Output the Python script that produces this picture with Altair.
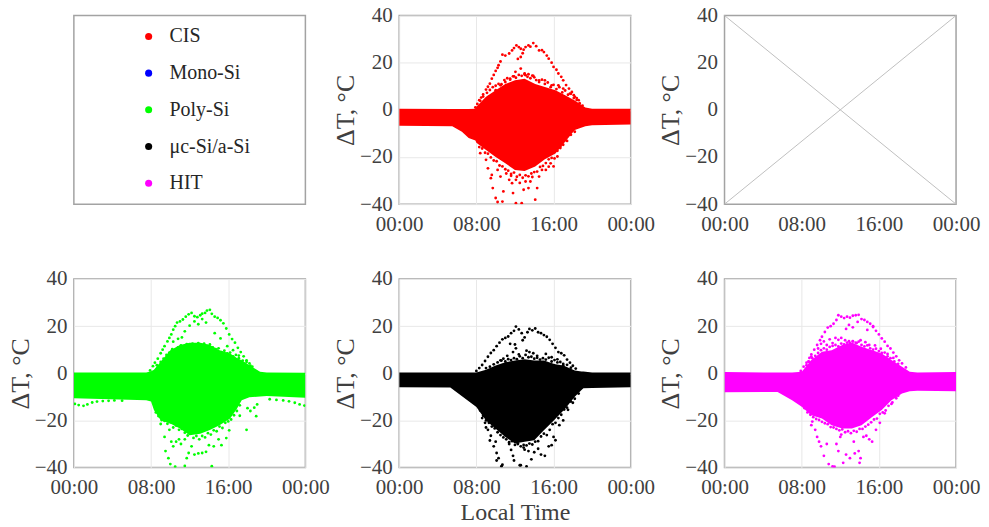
import json
import altair as alt
import numpy as np
import pandas as pd

FONT = "Liberation Serif"
INK = "#404040"
BORDER = "#a3a3a3"
GRID = "#e8e8e8"

X_TICKS = [0, 8, 16, 24]
X_LABELS = ["00:00", "08:00", "16:00", "00:00"]
Y_TICKS = [-40, -20, 0, 20, 40]
Y_TITLE = "ΔT, °C"
X_TITLE = "Local Time"

LEGEND_NAMES = ["CIS", "Mono-Si", "Poly-Si", "μc-Si/a-Si", "HIT"]
LEGEND_COLORS = ["#ff0000", "#0000ff", "#00ff00", "#000000", "#ff00ff"]

# ---- CIS
CIS_ENV_H = [0, 5.5, 6.5, 7.2, 7.9, 8, 9, 10, 11, 12, 13, 14.1, 15.1, 16.2, 17.2, 18.2, 19.3, 20, 24]
CIS_ENV_UP = [0.5, 0.3, 0.3, 0.3, 0.5, 1.3, 5.5, 8.3, 11, 12.5, 13.2, 11, 9.7, 8.3, 6.2, 4, 1, 0.5, 0.5]
CIS_ENV_LO = [-6.8, -7, -9.3, -12, -13, -14, -17, -20, -22.7, -25.5, -26, -24, -21, -18.5, -13.5, -8.6, -7, -6.5, -6.2]
CIS_PT_H = [7.9, 8.1, 8.3, 8.5, 8.7, 9.0, 9.2, 9.4, 9.6, 9.8, 10.0, 10.2, 10.3, 10.5, 10.7, 11.0, 11.4, 11.7, 11.9, 12.15, 12.4, 12.6, 12.9, 13.1, 13.4, 13.6, 13.9, 14.2, 14.5, 14.8, 15.0, 15.3, 15.5, 15.8, 16.0, 16.3, 16.5, 16.8, 17.0, 17.3, 17.6, 17.9, 18.1, 18.4, 18.6,
            12.05, 12.6, 13.1, 13.4, 13.8, 11.5, 11.0, 10.5, 10.0, 9.3, 14.5, 15.1, 15.8, 16.5, 17.0, 17.7, 18.2, 12.6, 12.3, 11.9, 13.0, 14.0, 12.8,
            9.0, 9.2, 9.6, 9.5, 9.7, 10.0, 10.2, 10.7, 10.8, 10.5, 10.2, 11.4, 11.7, 11.8, 12.1, 12.1, 12.7, 12.9, 13.1, 13.6, 13.4, 14.3, 14.1, 14.5, 14.8, 15.5, 15.7, 16.4, 16.7, 17.2, 18.2, 8.4, 11.1, 11.6, 12.5, 13.8, 15.2, 16.0,
            8.4, 8.7, 9.1, 9.4, 9.7, 10, 10.3, 10.6, 10.9, 11.2, 11.5, 11.8, 12.1, 12.4, 12.7, 13, 13.3, 13.6, 13.9, 14.2, 14.5, 14.8, 15.1, 15.4, 15.7, 16, 16.3, 16.6, 16.9, 17.2, 17.5, 17.8, 18.1, 18.4, 18.7, 19,
            8.3, 8.6, 8.9, 9.2, 9.5, 9.8, 10.1, 10.4, 10.7, 11, 11.3, 11.6, 11.9, 12.2, 12.5, 12.8, 13.1, 13.4, 13.7, 14, 14.3, 14.6, 14.9, 15.2, 15.5, 15.8, 16.1, 16.4, 16.7, 17, 17.4, 17.8]
CIS_PT_V = [1.0, 2.5, 4.1, 5.2, 6.5, 8.6, 9.8, 11.1, 13.2, 14.8, 16.5, 17.8, 18.9, 20.5, 23.4, 23.0, 23.9, 25.2, 26.2, 27.3, 26.6, 25.9, 25.5, 26.6, 27.3, 26.8, 28.3, 27.0, 25.2, 25.3, 24.5, 23.0, 21.7, 20.0, 18.2, 17.0, 15.4, 14.0, 12.5, 10.5, 9, 7.6, 6.2, 5, 4.1,
            16.1, 17.5, 14.7, 15.1, 14.5, 13.2, 11.8, 10.4, 8.3, 5.5, 12.5, 12.5, 10.4, 10.4, 9, 6.9, 5.5, 22.4, 21.6, 14.2, 15.4, 13.8, 24.0,
            -21.2, -24.8, -27.6, -29, -33.2, -37.4, -39.1, -38.9, -34.6, -28.3, -25.5, -29.7, -31.1, -35.3, -39.6, -29.7, -39.6, -33.9, -30.4, -30.4, -33.2, -33.2, -38.1, -28.3, -25.5, -24.1, -22.7, -19.8, -15.6, -12.8, -9.3, -18.4, -27, -28, -31, -28.5, -25.5, -24,
            3.8, 5.6, 7.2, 8.4, 9.6, 10.2, 11.0, 10.9, 12.6, 13.4, 12.8, 14.2, 13.6, 14.8, 14.4, 15.0, 14.0, 13.4, 14.4, 12.6, 11.8, 12.8, 11.0, 11.6, 9.6, 10.6, 8.8, 9.6, 7.4, 8.2, 6.4, 6.8, 5, 4.2, 2.8, 1.8,
            -15.8, -16.4, -18.2, -18.6, -20.2, -21.5, -21.8, -23.6, -24.0, -25.2, -25.8, -27.2, -26.6, -28.4, -27.6, -28.8, -27.8, -28.2, -27.0, -26.4, -26.2, -24.2, -23.8, -22.6, -21.0, -20.4, -20.6, -17.4, -16.2, -14.8, -13.2, -10.6]

# ---- Poly-Si
POLY_ENV_H = [0, 7.5, 8, 8.3, 9, 10, 11, 12, 13.1, 14.1, 15.1, 16.2, 16.9, 17.4, 18.2, 19.3, 20, 24]
POLY_ENV_UP = [0.3, 0.3, 0.9, 1.5, 4.9, 9.8, 12, 13, 13, 12, 9.8, 8.4, 6.5, 5.5, 3.4, 0.6, 0.3, 0.2]
POLY_ENV_LO = [-10.6, -11.4, -12, -15.6, -19.9, -21.3, -23.4, -26.3, -25.6, -24.1, -22, -19.2, -15, -11.4, -10.2, -9.8, -9.6, -10.4]
POLY_PT_H = [7.9, 8.2, 8.4, 8.7, 9.0, 9.2, 9.4, 9.7, 9.9, 10.1, 10.3, 10.5, 10.7, 11.0, 11.3, 11.6, 11.9, 12.2, 12.5, 12.8, 13.1, 13.3, 13.6, 13.8, 14.1, 14.3, 14.6, 14.9, 15.2, 15.5, 15.8, 16.1, 16.4, 16.7, 17.0, 17.3, 17.6, 17.9, 18.2, 18.5,
             12.5, 12.9, 13.3, 13.7, 12.0, 11.5, 11.2, 14.6, 10.8, 10.3, 15.2, 15.9, 16.5, 17.1,
             0.1, 0.5, 1.0, 1.4, 1.9, 2.4, 3.0, 3.6, 4.2, 5.0, 23.9, 23.4, 22.9, 22.3, 21.7, 21.0, 20.3, 19.0, 18.7, 18.3, 18.0, 18.9,
             9.0, 9.4, 9.5, 9.8, 10.0, 10.1, 10.3, 10.5, 10.9, 11.1, 11.5, 11.5, 11.7, 11.9, 12.2, 12.5, 12.9, 13.3, 13.7, 14.3, 14.0, 14.5, 15.0, 15.3, 15.8, 16.1, 17.2, 17.9, 10.6, 8.8, 9.9,
             8.6, 9.0, 9.3, 9.6, 9.9, 10.2, 10.5, 10.8, 11.1, 11.4, 11.7, 12, 12.3, 12.6, 12.9, 13.2, 13.5, 13.8, 14.1, 14.4, 14.7, 15, 15.3, 15.6, 15.9, 16.2, 16.5, 16.8, 17.1, 17.5, 17.9, 18.3,
             8.5, 8.8, 9.1, 9.4, 9.7, 10, 10.3, 10.6, 10.9, 11.2, 11.5, 11.8, 12.1, 12.4, 12.7, 13, 13.3, 13.6, 13.9, 14.2, 14.5, 14.8, 15.1, 15.4, 15.7, 16, 16.3, 16.6, 16.9, 17.2]
POLY_PT_V = [1.2, 3.0, 4.5, 6.2, 8.5, 10, 11.5, 13.5, 15, 16.5, 18.5, 20, 21.5, 22.0, 22.8, 24, 25, 25.6, 24.2, 23.8, 24.6, 25.3, 25.6, 26.6, 26.9, 25.2, 24.0, 23.5, 22.5, 21.2, 19.0, 16.5, 14.5, 13.0, 10.8, 9, 7.2, 5.5, 4.2, 2.8,
             22.0, 20.8, 23.0, 21.5, 20.2, 17.8, 15.2, 17.0, 14.6, 13.4, 14.8, 11.5, 9.8, 7.5,
             -13.0, -13.5, -13.8, -13.2, -12.4, -12.0, -11.8, -11.7, -11.5, -11.6, -13.7, -13.2, -12.5, -11.9, -11.5, -11.3, -11.0, -13.2, -14.6, -16.0, -14.8, -18.2,
             -21.5, -27, -33, -36, -38.5, -29, -31, -39.6, -28, -30, -39.3, -28, -36, -33.8, -31, -34.5, -34, -33.8, -33.3, -39.4, -30.5, -31, -28, -30.5, -27.5, -24.2, -18, -24, -29, -18, -24,
             3.4, 4.8, 6.2, 7.8, 8.8, 10.2, 9.4, 11.0, 11.8, 11.2, 12.4, 11.8, 12.6, 12.0, 12.8, 12.2, 12.6, 11.6, 12.2, 11.0, 10.2, 10.6, 9.0, 9.6, 8.4, 8.8, 7.2, 7.8, 6.4, 5.4, 4.8, 3.2,
             -16.6, -18.2, -19.8, -20.2, -21.4, -20.8, -23, -22.2, -24, -23.6, -25.2, -26.4, -25.6, -27.4, -26.6, -28, -26.6, -27.2, -25.4, -26, -24.2, -24.6, -22.6, -23.2, -21, -20.4, -19.6, -17.8, -16, -13.6]

# ---- μc-Si/a-Si
MC_ENV_H = [0, 8, 9, 10, 11, 12, 13, 14, 15, 16, 17, 18.2, 18.9, 20, 24]
MC_ENV_UP = [0.3, 0.3, 1.5, 3.3, 4.7, 5.4, 6, 5.4, 5.4, 4, 3.3, 1.2, 0.8, 0.3, 0.3]
MC_ENV_LO_H = [0, 5.3, 8, 9, 10, 11, 12, 13, 14, 15, 16.2, 17.2, 18.2, 19.1, 20, 24]
MC_ENV_LO = [-5.9, -6, -14.3, -20, -23.5, -27, -29.8, -29, -28.4, -24.2, -19.3, -15, -10, -6.3, -6.2, -5.9]
MC_PT_H = [8.0, 8.3, 8.6, 8.9, 9.2, 9.5, 9.8, 10.1, 10.4, 10.7, 11.0, 11.3, 11.6, 11.9, 12.1, 12.4, 12.7, 13.0, 13.3, 13.5, 13.8, 14.1, 14.4, 14.7, 15.0, 15.3, 15.6, 15.9, 16.2, 16.5, 16.8, 17.1, 17.4, 17.7, 18.0, 18.3,
           11.2, 11.5, 11.8, 12.0, 12.4, 12.8, 13.2, 13.5, 13.9, 14.3, 15.2, 15.8, 16.4, 10.8, 10.5, 17.0, 12.1,
           8.6, 8.9, 9.2, 9.5, 9.4, 9.8, 10.1, 10.3, 10.1, 10.7, 10.6, 11.0, 11.4, 11.6, 11.8, 11.9, 12.3, 12.6, 12.9, 13.2, 13.4, 13.7, 14.0, 14.4, 14.7, 15.1, 15.5, 15.8, 16.0, 16.2, 16.6, 17.0, 17.5, 18.0, 12.5, 13.0, 9.0, 10.0,
           9.0, 9.4, 9.8, 10.2, 10.6, 11, 11.3, 11.6, 11.9, 12.2, 12.5, 12.8, 13.1, 13.4, 13.7, 14, 14.3, 14.6, 14.9, 15.2, 15.5, 15.8, 16.1, 16.4, 16.7, 17, 17.4, 17.8,
           8.4, 8.7, 9, 9.3, 9.6, 9.9, 10.2, 10.5, 10.8, 11.1, 11.4, 11.7, 12, 12.3, 12.6, 12.9, 13.2, 13.5, 13.8, 14.1, 14.4, 14.7, 15, 15.3, 15.6, 15.9, 16.2, 16.5, 16.8, 17.1, 17.4, 17.8, 18.2, 18.6]
MC_PT_V = [1.0, 2.2, 3.5, 5.2, 7.0, 8.6, 9.8, 11.5, 13.0, 14.4, 15.0, 15.6, 17, 18.0, 19.8, 18.6, 17.0, 15.2, 17.4, 18.8, 18.2, 19.0, 17.4, 17.0, 16.2, 15.5, 14.2, 12.5, 10.8, 9.0, 8.5, 7.6, 5.8, 4.5, 3.2, 2.0,
           7.4, 12.5, 9.0, 12.2, 8.0, 14, 9.6, 9.0, 8.5, 7.4, 8.2, 6.8, 5.9, 6.2, 5.5, 4.0, 10.6,
           -19, -21, -24, -26.5, -28.5, -31, -33.8, -36, -37, -38.8, -39.4, -25, -30, -32.5, -35, -37, -29.8, -39, -31.5, -39.5, -33, -36.5, -33.5, -32, -34.5, -35, -31, -30.5, -27, -28.4, -22, -20, -15.5, -12.5, -39, -32.4, -23, -29,
           2.2, 2.8, 3.8, 4.6, 5.4, 5.0, 6.0, 5.6, 6.4, 6.0, 7.2, 6.4, 7.8, 6.8, 7.0, 6.2, 6.6, 5.8, 6.4, 5.8, 6.6, 5.0, 5.6, 4.6, 4.8, 3.4, 3.6, 2.4,
           -15.8, -18, -20, -21, -22.6, -23.4, -25, -26.2, -27.2, -28, -29.2, -28.8, -30.4, -30, -31, -30.4, -30.6, -29.8, -30.2, -29, -28.8, -26.8, -25.6, -26.2, -24, -21.6, -21, -19, -17.6, -15.4, -14.6, -12, -10.8, -8.6]

# ---- HIT
HIT_ENV_H = [0, 5.5, 7, 8, 9, 10.1, 11.1, 12.2, 13.2, 14.2, 15.3, 16.3, 17.3, 18.4, 19.2, 20, 24]
HIT_ENV_UP = [0.5, 0.3, 0.3, 0.6, 5.6, 9.1, 9.8, 12, 13.1, 11.3, 9.8, 8.4, 5.6, 2.8, 0.6, 0.3, 0.5]
HIT_ENV_LO = [-8, -7.9, -11.4, -14.2, -17.8, -19.2, -22, -23.4, -23.4, -22, -18.5, -15.6, -11.4, -8.6, -7.6, -7.4, -7.6]
HIT_PT_H = [7.9, 8.2, 8.5, 8.8, 9.0, 9.3, 9.6, 9.9, 10.1, 10.4, 10.7, 11.0, 11.3, 11.6, 11.8, 12.1, 12.4, 12.7, 13.0, 13.3, 13.6, 13.9, 14.2, 14.5, 14.8, 15.1, 15.4, 15.7, 16.0, 16.3, 16.6, 16.9, 17.2, 17.5, 17.8, 18.1, 18.4, 18.8,
            9.7, 10.0, 10.3, 10.6, 10.9, 11.2, 11.5, 11.8, 12.1, 12.5, 12.9, 13.3, 13.7, 14.1, 14.6, 15.0, 15.6, 16.2, 16.9, 17.5, 12.9, 13.3, 12.6, 13.8, 14.8, 15.4, 9.0, 8.7,
            9.1, 9.4, 9.6, 9.8, 10.0, 10.3, 10.6, 10.8, 11.2, 11.4, 11.8, 12.0, 12.1, 12.3, 12.6, 13.0, 13.4, 13.5, 13.9, 14.1, 14.4, 14.7, 15.0, 15.3, 15.7, 16.1, 16.6, 17.3, 18.0, 9.0, 11.6, 14.0,
            8.5, 8.8, 9.1, 9.4, 9.7, 10, 10.3, 10.6, 10.9, 11.2, 11.5, 11.8, 12.1, 12.4, 12.7, 13, 13.3, 13.6, 13.9, 14.2, 14.5, 14.8, 15.1, 15.4, 15.7, 16, 16.3, 16.6, 16.9, 17.2, 17.6, 18,
            8.3, 8.6, 8.9, 9.2, 9.5, 9.8, 10.1, 10.4, 10.7, 11, 11.3, 11.6, 11.9, 12.2, 12.5, 12.8, 13.1, 13.4, 13.7, 14, 14.3, 14.6, 14.9, 15.2, 15.5, 15.8, 16.1, 16.4, 16.7, 17, 17.4, 17.8]
HIT_PT_V = [1.0, 2.8, 4.5, 6.5, 8, 10, 12, 14, 15.5, 17.5, 19.4, 20, 21, 22.6, 24.6, 24.0, 23.4, 24.0, 23.6, 24.4, 24.6, 24.8, 23, 22.6, 21.8, 21, 19.6, 18, 16.5, 14.8, 13.4, 11.6, 10.5, 8.8, 7.2, 5.5, 4.2, 2.5,
            10.5, 12.5, 13.5, 12, 14.4, 12.8, 15, 14.2, 15, 14, 13.6, 13.5, 12.8, 14, 13.2, 12, 11.8, 10.4, 8.2, 6.5, 20.5, 19.5, 18.8, 21.8, 18.4, 20, 7, 5,
            -20.5, -24, -27, -29, -31, -35, -30, -38.5, -39.5, -39.6, -33, -27, -26, -38, -34.5, -36, -29, -34, -33, -36, -27, -26.5, -28, -29, -24, -21, -17, -13, -9.5, -22, -30, -38,
            3.4, 4.8, 6.4, 7.4, 8.6, 9.8, 10.6, 10, 11.2, 11.6, 12, 11.4, 12.6, 12.2, 13, 12.8, 13.6, 13, 13.4, 12, 11.4, 11.8, 10.6, 10, 10.4, 9.4, 8.6, 8.8, 7.2, 6.4, 5, 4,
            -14.8, -16.6, -17.6, -18.6, -19.4, -19.8, -20.6, -21.2, -21.6, -22.8, -23, -23.6, -24.2, -23.8, -25, -24.6, -25.4, -24.4, -24.8, -23.6, -23.6, -22.6, -21.8, -20.8, -19.6, -19.2, -17.2, -16.6, -15.8, -13.8, -12.4, -10.6]

CROSS_H = [0, 24]
CROSS_A = [-40, 40]
CROSS_B = [40, -40]

LABEL_EXPR = f"{json.dumps(X_LABELS)}[datum.value/8]"
X_SCALE = alt.Scale(domain=[0, 24], nice=False)
Y_SCALE = alt.Scale(domain=[-40, 40], nice=False)
W, H = 232, 189


def x_axis(title=None, grid=True):
    return alt.Axis(title=title, titlePadding=3, titleFontSize=24, values=X_TICKS, labelExpr=LABEL_EXPR, labelPadding=9,
                    labelFlush=False, labelOverlap=False, labelBound=False, grid=grid)


def y_axis(grid=True):
    return alt.Axis(title=Y_TITLE, values=Y_TICKS, labelPadding=7, titlePadding=1, grid=grid,
                    labelOverlap=False, labelBound=False, labelFlush=False)


def panel(color, env_h, up, lo, pt_h, pt_v, title=None, lo_h=None):
    if lo_h is None:
        env = pd.DataFrame({"h": env_h, "up": up, "lo": lo})
    else:
        merged = sorted(set(env_h) | set(lo_h))
        env = pd.DataFrame({"h": merged,
                            "up": np.interp(merged, env_h, up),
                            "lo": np.interp(merged, lo_h, lo)})
    pts = pd.DataFrame({"h": pt_h, "v": pt_v})
    area = alt.Chart(env).mark_area(color=color, clip=True, opacity=1).encode(
        x=alt.X("h:Q", scale=X_SCALE, axis=x_axis(title)),
        y=alt.Y("lo:Q", scale=Y_SCALE, axis=y_axis()),
        y2="up:Q",
    )
    dots = alt.Chart(pts).mark_circle(color=color, size=8, opacity=1, clip=True).encode(
        x=alt.X("h:Q", scale=X_SCALE, axis=x_axis(title)),
        y=alt.Y("v:Q", scale=Y_SCALE, axis=y_axis()),
    )
    return alt.layer(area, dots).properties(width=W, height=H)


leg = pd.DataFrame({"name": LEGEND_NAMES, "color": LEGEND_COLORS})
leg_y = alt.Y("name:N", sort=LEGEND_NAMES, scale=alt.Scale(type="point", padding=0.57, round=False), axis=None)
leg_pts = alt.Chart(leg).mark_circle(size=50, opacity=1).encode(
    x=alt.XDatum(0.323, scale=alt.Scale(domain=[0, 1]), axis=None),
    y=leg_y,
    color=alt.Color("color:N", scale=None, legend=None),
)
leg_txt = alt.Chart(leg).mark_text(align="left", baseline="middle", font=FONT, fontSize=20, color="#262626").encode(
    x=alt.XDatum(0.413, scale=alt.Scale(domain=[0, 1]), axis=None),
    y=leg_y,
    text="name:N",
)
legend_panel = alt.layer(leg_pts, leg_txt).properties(width=W, height=H)

cross = pd.DataFrame({"h": CROSS_H + CROSS_H, "v": CROSS_A + CROSS_B, "k": ["a", "a", "b", "b"]})
cross_panel = alt.Chart(cross).mark_line(color="#c0c0c0", strokeWidth=1).encode(
    x=alt.X("h:Q", scale=X_SCALE, axis=x_axis(None, grid=False)),
    y=alt.Y("v:Q", scale=Y_SCALE, axis=y_axis(grid=False)),
    detail="k:N",
).properties(width=W, height=H)

chart = alt.concat(
    legend_panel,
    panel("#ff0000", CIS_ENV_H, CIS_ENV_UP, CIS_ENV_LO, CIS_PT_H, CIS_PT_V),
    cross_panel,
    panel("#00ff00", POLY_ENV_H, POLY_ENV_UP, POLY_ENV_LO, POLY_PT_H, POLY_PT_V),
    panel("#000000", MC_ENV_H, MC_ENV_UP, MC_ENV_LO, MC_PT_H, MC_PT_V, title=X_TITLE, lo_h=MC_ENV_LO_H),
    panel("#ff00ff", HIT_ENV_H, HIT_ENV_UP, HIT_ENV_LO, HIT_PT_H, HIT_PT_V),
    columns=3,
    spacing={"column": 94, "row": 75},
    bounds="flush",
).resolve_scale(x="independent", y="independent").properties(
    padding={"left": -2, "top": -5, "right": 0, "bottom": 2},
    background="white",
).configure_view(stroke=BORDER, strokeWidth=1.5).configure_axis(
    domain=False, ticks=False, grid=True, gridColor=GRID, gridWidth=1,
    labelFont=FONT, labelFontSize=21, labelColor=INK,
    titleFont=FONT, titleFontSize=26, titleColor=INK, titleFontWeight="normal",
)

chart.save("out.html", embed_options={"renderer": "svg", "actions": False})
